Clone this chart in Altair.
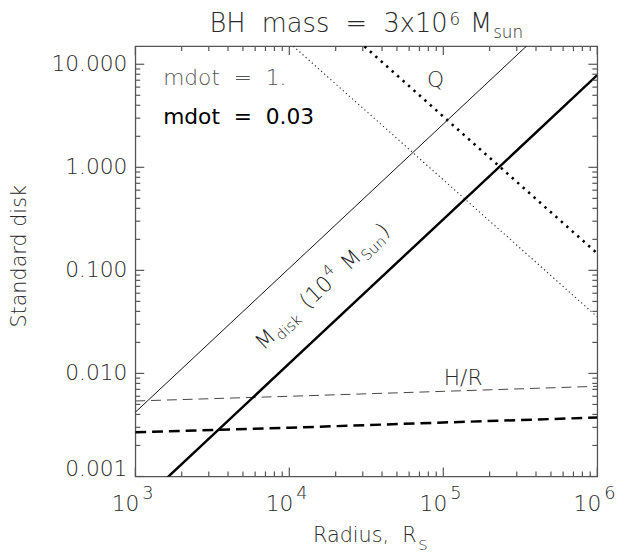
import altair as alt
import pandas as pd

# ---------------- data ----------------
radius = [1e3, 1e4, 1e5, 1e6]
mdisk_mdot1 = [0.0042, 0.105, 2.63, 66.0]
mdisk_mdot003 = [0.00050, 0.0125, 0.313, 7.85]
q_mdot1 = [346.0, 16.2, 0.757, 0.0354]
q_mdot003 = [1420.0, 66.5, 3.11, 0.146]
hr_mdot1 = [0.0054, 0.0060, 0.0067, 0.0075]
hr_mdot003 = [0.00268, 0.00297, 0.00334, 0.00373]

x_major = [1e3, 1e4, 1e5, 1e6]
x_exponents = ["3", "4", "5", "6"]
x_minor = [k * 10 ** d for d in (3, 4, 5) for k in range(2, 10)]
y_major = [0.001, 0.01, 0.1, 1.0, 10.0]
y_labels = ["0.001", "0.010", "0.100", "1.000", "10.000"]
y_minor = [k * 10.0 ** d for d in (-3, -2, -1, 0) for k in range(2, 10)]

W, H = 468, 436
FONT = "DejaVu Sans"
AX = "#555555"
TXT = "#2a2a2a"
NB = "\u00a0"

xscale = alt.Scale(type="log", domain=[1e3, 1e6], nice=False)
yscale = alt.Scale(type="log", domain=[0.001, 15], nice=False)

# DejaVu Sans advance widths (em) for layout of multi-part labels
CW = {"B": .686, "H": .752, " ": .318, NB: .318, "m": .974, "a": .613, "s": .521, "=": .838,
      "0": .636, "1": .636, "3": .636, "4": .636, "6": .636, "x": .592, "M": .863,
      "u": .634, "n": .634, "d": .635, "i": .278, "k": .579, "S": .635, "(": .390,
      ")": .390, "R": .695, ",": .318, ".": .318}


def tw(s, size):
    return sum(CW.get(c, .6) for c in s) * size


def sp(s):
    return s.replace(" ", NB)


one = pd.DataFrame({"a": [0]})


def ptext(s, px, py, size, color=TXT, weight=300, align="left", baseline="alphabetic", angle=0):
    return alt.Chart(one).mark_text(
        text=sp(s), font=FONT, fontSize=size, fontWeight=weight, color=color,
        align=align, baseline=baseline, angle=angle,
    ).encode(x=alt.value(px), y=alt.value(py))


def dtext(s, xv, yv, size, color=TXT, weight=300, align="left", baseline="alphabetic",
          angle=0, dx=0, dy=0):
    df = pd.DataFrame({"r": [xv], "v": [yv]})
    return alt.Chart(df).mark_text(
        text=sp(s), font=FONT, fontSize=size, fontWeight=weight, color=color,
        align=align, baseline=baseline, angle=angle, dx=dx, dy=dy,
    ).encode(x=alt.X("r:Q", scale=xscale, axis=None), y=alt.Y("v:Q", scale=yscale, axis=None))


def line(vals, width, color, dash=None):
    df = pd.DataFrame({"r": radius, "v": vals})
    kw = dict(clip=True, strokeWidth=width, color=color)
    if dash:
        kw["strokeDash"] = dash
    return alt.Chart(df).mark_line(**kw).encode(
        x=alt.X("r:Q", scale=xscale, axis=None), y=alt.Y("v:Q", scale=yscale, axis=None))


layers = []
# curves
layers.append(line(hr_mdot1, 1.0, "#444444", [10, 6]))
layers.append(line(hr_mdot003, 2.5, "#000000", [11, 6]))
layers.append(line(q_mdot1, 1.1, "#222222", [1.2, 3]))
layers.append(line(q_mdot003, 2.6, "#000000", [2.4, 5]))
layers.append(line(mdisk_mdot1, 1.0, "#111111"))
layers.append(line(mdisk_mdot003, 2.5, "#000000"))


# inward ticks on all four sides
def xticks(vals, length):
    df = pd.DataFrame({"t": vals})
    enc_x = alt.X("t:Q", scale=xscale, axis=None)
    bot = alt.Chart(df).mark_rule(color=AX, strokeWidth=1.2).encode(
        x=enc_x, y=alt.value(H), y2=alt.value(H - length))
    top = alt.Chart(df).mark_rule(color=AX, strokeWidth=1.2).encode(
        x=enc_x, y=alt.value(0), y2=alt.value(length))
    return [bot, top]


def yticks(vals, length):
    df = pd.DataFrame({"t": vals})
    enc_y = alt.Y("t:Q", scale=yscale, axis=None)
    left = alt.Chart(df).mark_rule(color=AX, strokeWidth=1.2).encode(
        y=enc_y, x=alt.value(0), x2=alt.value(length))
    right = alt.Chart(df).mark_rule(color=AX, strokeWidth=1.2).encode(
        y=enc_y, x=alt.value(W), x2=alt.value(W - length))
    return [left, right]


layers += xticks(x_major, 9) + xticks(x_minor, 5)
layers += yticks(y_major, 9) + yticks(y_minor, 5)

# x tick labels 10^n
xl = pd.DataFrame({"t": x_major, "e": x_exponents})
layers.append(alt.Chart(xl).mark_text(
    text="10", font=FONT, fontSize=22, fontWeight=300, color=TXT, align="right",
    baseline="alphabetic", dx=4).encode(
    x=alt.X("t:Q", scale=xscale, axis=None), y=alt.value(471)))
layers.append(alt.Chart(xl).mark_text(
    font=FONT, fontSize=18, fontWeight=300, color=TXT, align="left",
    baseline="alphabetic", dx=7).encode(
    x=alt.X("t:Q", scale=xscale, axis=None), y=alt.value(459), text="e:N"))

# y tick labels
yl = pd.DataFrame({"t": y_major[1:], "s": y_labels[1:]})
layers.append(alt.Chart(yl).mark_text(
    font=FONT, fontSize=22, fontWeight=300, color=TXT, align="right",
    baseline="middle").encode(
    y=alt.Y("t:Q", scale=yscale, axis=None), x=alt.value(-8), text="s:N"))
layers.append(dtext(y_labels[0], 1e3, y_major[0], 22, align="right", dx=-8))

# y title
layers.append(ptext("Standard disk", -111, 213, 21, angle=270, align="center",
                    baseline="alphabetic"))

# x title: Radius, R_S
xt0 = 180
layers.append(ptext("Radius,  R", xt0, 502, 21))
layers.append(ptext("S", xt0 + tw(sp("Radius,  R"), 21) + 1, 510, 15))

# main title: BH mass = 3x10^6 M_sun
t1, t2, t3, t4 = "BH  mass  =  3x10", "6", "M", "sun"
fs, fss = 26, 17
gap = 10
total = tw(sp(t1), fs) + 1 + tw(t2, fss) + gap + tw(t3, fs) + 1 + tw(t4, fss)
x0 = W / 2 - total / 2
layers.append(ptext(t1, x0, -14, fs))
x1 = x0 + tw(sp(t1), fs) + 1
layers.append(ptext(t2, x1, -21, fss))
x2 = x1 + tw(t2, fss) + gap
layers.append(ptext(t3, x2, -14, fs))
x3 = x2 + tw(t3, fs) + 1
layers.append(ptext(t4, x3, -8, fss))

# annotations inside the frame
layers.append(dtext("mdot  =  1.", 1517, 6.25, 22, color="#555555", weight=300))
layers.append(dtext("mdot  =  0.03", 1517, 2.64, 22, color="#000000", weight=400))
layers.append(dtext("Q", 88900, 5.98, 22, align="center"))
layers.append(dtext("H/R", 134600, 0.00766, 22, align="center"))

# rotated M_disk (10^4 M_Sun) label
ax, ay, ang = 6800, 0.0165, 317
big, small = 22, 15
col = "#222222"
d = 0
layers.append(dtext("M", ax, ay, big, color=col, angle=ang, dx=d))
d += tw("M", big) + 1
layers.append(dtext("disk", ax, ay, small, color=col, angle=ang, dx=d, dy=5))
d += tw("disk", small) + 11
layers.append(dtext("(10", ax, ay, big, color=col, angle=ang, dx=d))
d += tw("(10", big) + 1
layers.append(dtext("4", ax, ay, small, color=col, angle=ang, dx=d, dy=-10))
d += tw("4", small) + 10
layers.append(dtext("M", ax, ay, big, color=col, angle=ang, dx=d))
d += tw("M", big) + 1
layers.append(dtext("Sun", ax, ay, small, color=col, angle=ang, dx=d, dy=5))
d += tw("Sun", small) + 1
layers.append(dtext(")", ax, ay, big, color=col, angle=ang, dx=d))

chart = alt.layer(*layers).properties(
    width=W, height=H,
    autosize=alt.AutoSizeParams(type="none"),
    padding={"left": 129, "top": 35, "right": 21, "bottom": 80},
    background="white",
).configure_view(stroke=AX, strokeWidth=1.3)

chart.save("out.html", embed_options={"renderer": "svg", "actions": False})
